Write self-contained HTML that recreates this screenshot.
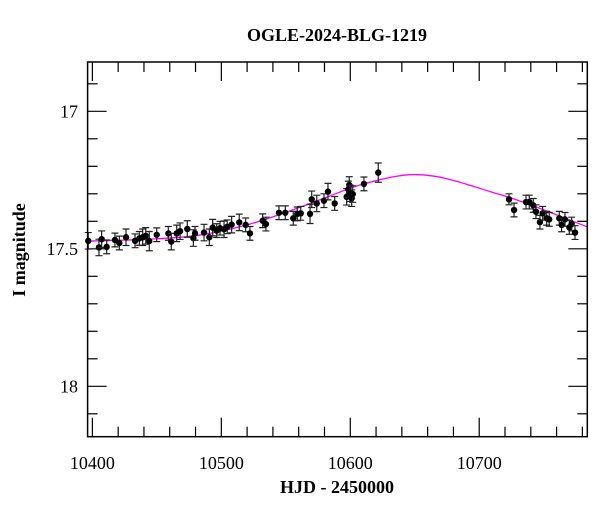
<!DOCTYPE html>
<html><head><meta charset="utf-8"><style>
body{margin:0;background:#fff}
svg{display:block;font-family:"Liberation Serif",serif}
</style></head><body>
<svg id="chart" width="600" height="512" viewBox="0 0 600 512">
<text x="337" y="41" text-anchor="middle" font-size="18" font-weight="bold">OGLE-2024-BLG-1219</text>
<text x="337" y="493" text-anchor="middle" font-size="18" font-weight="bold">HJD - 2450000</text>
<text transform="translate(25,250) rotate(-90)" text-anchor="middle" font-size="18" font-weight="bold">I magnitude</text>
<g id="ticks"></g><g id="model"></g><g id="points"></g>
<rect x="87.6" y="62" width="499.7" height="374.7" fill="none" stroke="#000" stroke-width="1.5"/>
</svg>
<script>
const hjd=[10396.8,10405.1,10407.2,10411.1,10417.5,10420.9,10426.1,10433.1,10436.4,10439.0,10441.4,10444.1,10449.9,10458.9,10461.2,10465.4,10468.0,10473.6,10478.3,10479.6,10486.6,10490.7,10493.3,10496.4,10499.0,10502.1,10504.6,10508.0,10513.9,10518.9,10522.2,10532.1,10534.6,10544.7,10549.6,10555.8,10558.9,10561.6,10568.8,10570.1,10574.0,10579.6,10582.7,10587.9,10597.2,10598.5,10599.2,10599.8,10601.1,10601.9,10610.6,10621.7,10723.1,10727.0,10736.3,10738.8,10741.9,10744.0,10747.1,10749.2,10752.3,10754.3,10762.1,10763.9,10766.5,10769.9,10771.7,10774.3];
const mag=[17.471,17.495,17.465,17.493,17.468,17.479,17.458,17.471,17.462,17.458,17.453,17.472,17.449,17.444,17.474,17.444,17.436,17.428,17.461,17.444,17.441,17.458,17.423,17.434,17.425,17.429,17.420,17.412,17.404,17.413,17.444,17.398,17.410,17.369,17.369,17.389,17.373,17.371,17.373,17.320,17.335,17.325,17.292,17.335,17.311,17.284,17.268,17.298,17.316,17.301,17.264,17.223,17.320,17.359,17.330,17.330,17.342,17.365,17.403,17.371,17.389,17.393,17.389,17.413,17.393,17.422,17.410,17.441];
const err=[0.03,0.03,0.03,0.025,0.025,0.025,0.03,0.025,0.025,0.03,0.03,0.035,0.025,0.025,0.03,0.03,0.03,0.03,0.03,0.025,0.03,0.03,0.03,0.025,0.025,0.03,0.025,0.03,0.03,0.025,0.025,0.025,0.025,0.025,0.025,0.025,0.025,0.025,0.035,0.03,0.03,0.025,0.03,0.025,0.03,0.03,0.03,0.03,0.03,0.03,0.025,0.035,0.02,0.025,0.025,0.025,0.025,0.025,0.025,0.025,0.025,0.025,0.025,0.025,0.025,0.025,0.025,0.025];
const modelT=[10380,10396.6,10444.7,10483.5,10522.3,10561.0,10599.8,10615.3,10634.7,10650.0,10665.0,10677.3,10692.8,10708.4,10723.9,10747.1,10783.6,10800];
const modelM=[17.476,17.472,17.465,17.450,17.410,17.349,17.280,17.258,17.237,17.230,17.236,17.248,17.269,17.292,17.314,17.353,17.420,17.45];
const xTicks=[10400,10500,10600,10700];
const yTicks=[17,17.5,18];
const X0=87.6,X1=587.3,Y0=62,Y1=436.7;
const xs=t=>X0+(t-10396.3)*1.2895;
const ys=m=>111.3+(m-17)*275;
const NS='http://www.w3.org/2000/svg';
function mk(tag,attrs,parent){const e=document.createElementNS(NS,tag);for(const k in attrs)e.setAttribute(k,attrs[k]);parent.appendChild(e);return e;}
const tg=document.getElementById('ticks');
for(let t=10400;t<=10780;t+=20){
  const major=(t%100===0),L=major?19:10,x=xs(t);
  let l=mk('line',{x1:x,x2:x,y1:Y1,y2:Y1-L,stroke:'#000','stroke-width':1.2},tg);
  
  
  l=mk('line',{x1:x,x2:x,y1:Y0,y2:Y0+L,stroke:'#000','stroke-width':1.2},tg);
  
  
}
xTicks.forEach(t=>{const e=mk('text',{x:xs(t),y:469,'text-anchor':'middle','font-size':18},tg);e.textContent=t;
  
  });
for(let i=9;i<=21;i++){
  const mm=Math.round((16+i*0.1)*10)/10;
  if(mm<16.83||mm>18.18)continue;
  const major=Math.abs(mm*2-Math.round(mm*2))<1e-6,L=major?19:10,y=ys(mm);
  let l=mk('line',{x1:X0,x2:X0+L,y1:y,y2:y,stroke:'#000','stroke-width':1.2},tg);
  
  
  l=mk('line',{x1:X1,x2:X1-L,y1:y,y2:y,stroke:'#000','stroke-width':1.2},tg);
  
  
}
yTicks.forEach(m=>{const e=mk('text',{x:78,y:ys(m)+6,'text-anchor':'end','font-size':18},tg);e.textContent=m;
  
  });
const P=modelT.map((t,i)=>[xs(t),ys(modelM[i])]);
let d='M'+P[0][0]+','+P[0][1];
for(let i=0;i<P.length-1;i++){const p0=P[Math.max(0,i-1)],p1=P[i],p2=P[i+1],p3=P[Math.min(P.length-1,i+2)];
  d+=' C'+(p1[0]+(p2[0]-p0[0])/6)+','+(p1[1]+(p2[1]-p0[1])/6)+' '+(p2[0]-(p3[0]-p1[0])/6)+','+(p2[1]-(p3[1]-p1[1])/6)+' '+p2[0]+','+p2[1];}
const cp=mk('clipPath',{id:'clip'},document.getElementById('model'));
mk('rect',{x:X0,y:Y0,width:X1-X0,height:Y1-Y0},cp);
const mp=mk('path',{d:d,fill:'none',stroke:'#ff00ff','stroke-width':1.3,'clip-path':'url(#clip)'},document.getElementById('model'));


const pg=document.getElementById('points');
hjd.forEach((t,i)=>{const x=xs(t),y=ys(mag[i]),e1=ys(mag[i]-err[i]),e2=ys(mag[i]+err[i]);
  const g=mk('g',{},pg);
  
  
  mk('path',{d:`M${x},${e1}V${e2}M${x-3.5},${e1}H${x+3.5}M${x-3.5},${e2}H${x+3.5}`,stroke:'#222','stroke-width':1.2,fill:'none'},g);
  mk('circle',{cx:x,cy:y,r:3.2,fill:'#000'},g);
});
</script>
</body></html>
